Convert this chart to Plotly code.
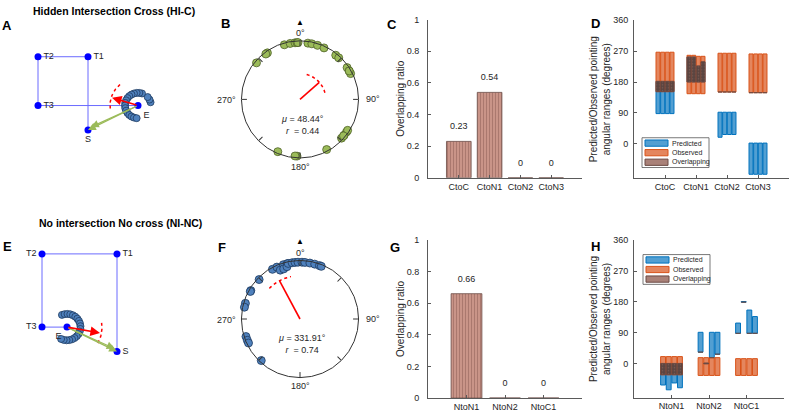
import numpy as np
import plotly.graph_objects as go

W, H = 790, 418
FONT = "Liberation Sans, Arial, sans-serif"
TXT = "#262626"
AXC = "#5a5a5a"

# ---------------- panel A (grid units) ----------------
a_names = ["T2", "T1", "T3", "S", "E"]
a_x = [0, 1, 0, 1, 2]
a_y = [2, 2, 1, 0.5, 1]
a_textpos = ["middle right", "middle right", "middle right", "bottom center", "bottom right"]
a_edges = [("T2", "T1"), ("T1", "S"), ("T2", "T3"), ("T3", "E")]
a_ring_deg = [15, 28, 42, 72, 84, 96, 108, 120, 132, 144, 156, 168, 180, 192, 204, 216, 228, 240, 252, 264]
a_ring_r = 0.26
a_pointing = (1.48, 1.16)
a_arc = (0.56, 130, 192)
a_green_tips = [(1.0, 0.5), (1.06, 0.56)]

# ---------------- panel E (grid units) ----------------
e_names = ["T2", "T1", "T3", "E", "S"]
e_x = [0, 3, 0, 1, 3]
e_y = [3, 3, 0, 0, -1]
e_textpos = ["middle left", "middle right", "middle left", "bottom left", "middle right"]
e_edges = [("T2", "T1"), ("T1", "S"), ("T2", "T3"), ("T3", "E")]
e_ring_deg = [112, 100, 88, 76, 64, 52, 40, 28, 16, 4, -8, -20, -32, -44, -56, -68, -80, -92, -104, -116]
e_ring_r = 0.54
e_pointing = (2.32, -0.24)
e_arc = (1.4, -28, 10)
e_green_tips = [(3.0, -1.0), (2.9, -0.88)]

# ---------------- panel B / F (compass degrees) ----------------
b_theta = [344, 350, 355, 357, 358, 8, 12, 18, 25, 39, 43, 56, 60, 63, 60,
           125, 129, 123, 133, 130, 152, 183, 185, 203, 310, 325, 323]
b_r = [0.97] * len(b_theta)
b_mu, b_R, b_ci = 48.44, 0.44, (15, 80)

f_theta = [331, 336, 338, 343, 342, 347, 346, 348, 352, 355, 358, 2, 5, 10, 15, 20, 22,
           314, 300, 299, 286, 282, 252, 248, 245, 223]
f_r = [0.97, 0.97, 0.9, 0.97, 0.9, 0.97, 0.92, 0.97, 0.97, 0.97, 0.97, 0.97, 0.97, 0.97,
       0.97, 0.97, 0.97, 0.97, 0.97, 0.97, 0.97, 0.97, 0.97, 0.97, 0.97, 0.97]
f_mu, f_R, f_ci = 331.91, 0.74, (315, 348)

# ---------------- panel C / G ----------------
c_cats = ["CtoC", "CtoN1", "CtoN2", "CtoN3"]
c_ratio = [0.23, 0.54, 0, 0]
g_cats = ["NtoN1", "NtoN2", "NtoC1"]
g_ratio = [0.66, 0, 0]

# ---------------- panel D / H (degrees, 4 sub-bars per category) ----------------
d_cats = ["CtoC", "CtoN1", "CtoN2", "CtoN3"]
d_pred_lo = [[88, 88, 88, 88], [180, 180, 180, 180], [19, 27, 27, 27], [-89, -89, -89, -89]]
d_pred_hi = [[182, 182, 182, 182], [253, 253, 227, 239], [92, 92, 92, 92], [2, 2, 2, 2]]
d_obs_lo = [[152, 152, 152, 152], [146, 146, 146, 146], [151, 151, 151, 151], [149, 149, 149, 149]]
d_obs_hi = [[267, 267, 267, 267], [258, 258, 255, 255], [264, 264, 264, 264], [262, 262, 262, 262]]

h_cats = ["NtoN1", "NtoN2", "NtoC1"]
h_pred_lo = [[-63, -77, -57, -71], [33, -1, 17, 27], [88, 179, 88, 88]]
h_pred_hi = [[0, 0, 0, 0], [91, 1, 91, 91], [118, 181, 156, 137]]
h_obs_lo = [[-33, -33, -33, -33], [-35, -35, -35, -35], [-35, -35, -35, -35]]
h_obs_hi = [[20, 20, 20, 20], [17, 17, 17, 17], [14, 14, 14, 14]]

legend_names = ["Predicted", "Observed", "Overlapping"]
SUB_OFF = [-0.225, -0.075, 0.075, 0.225]

PRED_FILL, PRED_EDGE = "rgba(0,114,189,0.68)", "#0072bd"
OBS_FILL, OBS_EDGE = "rgba(217,83,25,0.7)", "#d95319"
OVL_FILL, OVL_EDGE = "rgba(75,62,62,0.85)", "#6b4a44"


def px_x(a, b):
    return [a / W, b / W]


def px_y(top, bottom):
    return [1 - bottom / H, 1 - top / H]


fig = go.Figure()


def diagram(names, xs, ys, tpos, edges, ring_deg, ring_r, tip, arc, green, xa, ya):
    idx = {n: i for i, n in enumerate(names)}
    lx, ly = [], []
    for p, q in edges:
        lx += [xs[idx[p]], xs[idx[q]], None]
        ly += [ys[idx[p]], ys[idx[q]], None]
    fig.add_trace(go.Scatter(x=lx, y=ly, mode="lines", line=dict(color="#6b6bff", width=1),
                             xaxis=xa, yaxis=ya, showlegend=False, hoverinfo="skip"))
    ex, ey = xs[idx["E"]], ys[idx["E"]]
    th = np.radians(ring_deg)
    fig.add_trace(go.Scatter(x=ex + ring_r * np.cos(th), y=ey + ring_r * np.sin(th), mode="markers",
                             marker=dict(size=7, color="#4f81bd", line=dict(color="#1d3a5f", width=0.8)),
                             xaxis=xa, yaxis=ya, showlegend=False))
    ta = np.radians(np.linspace(arc[1], arc[2], 30))
    fig.add_trace(go.Scatter(x=ex + arc[0] * np.cos(ta), y=ey + arc[0] * np.sin(ta), mode="lines",
                             line=dict(color="red", width=1.5, dash="dot"),
                             xaxis=xa, yaxis=ya, showlegend=False))
    fig.add_trace(go.Scatter(x=xs, y=ys, mode="markers+text", text=names, textposition=tpos,
                             textfont=dict(size=9, color=TXT, family=FONT),
                             marker=dict(size=7, color="#0000ff"),
                             xaxis=xa, yaxis=ya, showlegend=False))
    for gx, gy in green:
        fig.add_annotation(x=gx, y=gy, ax=ex, ay=ey, xref=xa, yref=ya, axref=xa, ayref=ya,
                           text="", showarrow=True, arrowhead=2, arrowsize=1.2, arrowwidth=1.3,
                           arrowcolor="#9bbb59")
    fig.add_annotation(x=tip[0], y=tip[1], ax=ex, ay=ey, xref=xa, yref=ya, axref=xa, ayref=ya,
                       text="", showarrow=True, arrowhead=2, arrowsize=1.2, arrowwidth=1.6,
                       arrowcolor="red")


diagram(a_names, a_x, a_y, a_textpos, a_edges, a_ring_deg, a_ring_r, a_pointing, a_arc, a_green_tips, "x", "y")
diagram(e_names, e_x, e_y, e_textpos, e_edges, e_ring_deg, e_ring_r, e_pointing, e_arc, e_green_tips, "x4", "y4")


def circ(theta, r, mu, R, ci, color, edge, sub):
    fig.add_trace(go.Scatterpolar(r=r, theta=theta, mode="markers", subplot=sub, showlegend=False,
                                  marker=dict(size=8, color=color, line=dict(color=edge, width=0.8))))
    fig.add_trace(go.Scatterpolar(r=[0, R], theta=[mu, mu], mode="lines", subplot=sub, showlegend=False,
                                  line=dict(color="red", width=1.6)))
    fig.add_trace(go.Scatterpolar(r=[R] * 30, theta=np.linspace(ci[0], ci[1], 30), mode="lines",
                                  subplot=sub, showlegend=False,
                                  line=dict(color="red", width=1.5, dash="dot")))


circ(b_theta, b_r, b_mu, b_R, b_ci, "#9bbb59", "#4f6228", "polar")
circ(f_theta, f_r, f_mu, f_R, f_ci, "#4f81bd", "#1d3a5f", "polar2")


def ratio_bars(cats, vals, xa, ya):
    pos = list(range(1, len(cats) + 1))
    fig.add_trace(go.Bar(x=pos, y=vals, width=0.8, xaxis=xa, yaxis=ya, showlegend=False,
                         marker=dict(color="#c99488", line=dict(color="#6a4a44", width=0.8),
                                     pattern=dict(shape="|", fgcolor="#8c5c54", size=3, solidity=0.35,
                                                  fillmode="overlay"))))
    fig.add_trace(go.Scatter(x=pos, y=[v + 0.09 for v in vals], mode="text", text=[f"{v:g}" for v in vals],
                             textfont=dict(size=9, color=TXT, family=FONT), xaxis=xa, yaxis=ya,
                             showlegend=False))


ratio_bars(c_cats, c_ratio, "x2", "y2")
ratio_bars(g_cats, g_ratio, "x5", "y5")


def range_bars(cats, plo, phi, olo, ohi, xa, ya):
    xs, pb, ph, ob, oh, vb, vh = [], [], [], [], [], [], []
    for i in range(len(cats)):
        for j, off in enumerate(SUB_OFF):
            xs.append(i + 1 + off)
            pb.append(plo[i][j]); ph.append(phi[i][j] - plo[i][j])
            ob.append(olo[i][j]); oh.append(ohi[i][j] - olo[i][j])
            lo, hi = max(plo[i][j], olo[i][j]), min(phi[i][j], ohi[i][j])
            vb.append(lo); vh.append(max(hi - lo, 0))
    common = dict(x=xs, width=0.13, xaxis=xa, yaxis=ya, showlegend=False)
    fig.add_trace(go.Bar(y=ph, base=pb, name="Predicted",
                         marker=dict(color=PRED_FILL, line=dict(color=PRED_EDGE, width=1)), **common))
    fig.add_trace(go.Bar(y=oh, base=ob, name="Observed",
                         marker=dict(color=OBS_FILL, line=dict(color=OBS_EDGE, width=1)), **common))
    fig.add_trace(go.Bar(y=vh, base=vb, name="Overlapping",
                         marker=dict(color=OVL_FILL, line=dict(color=OVL_EDGE, width=0.8),
                                     pattern=dict(shape=".", fgcolor="#a07468", size=3, solidity=0.2,
                                                  fillmode="overlay")),
                         **common))


range_bars(d_cats, d_pred_lo, d_pred_hi, d_obs_lo, d_obs_hi, "x3", "y3")
range_bars(h_cats, h_pred_lo, h_pred_hi, h_obs_lo, h_obs_hi, "x6", "y6")

hidden = dict(visible=False, fixedrange=True)
tickfont = dict(size=9, color=TXT, family=FONT)
titlefont = dict(size=10, color=TXT, family=FONT)


def bar_axes(dom_x, dom_y, cats, xr, yr, ytickvals, ytitle, anchor_x, anchor_y, standoff):
    xa = dict(domain=dom_x, range=xr, anchor=anchor_y, tickvals=list(range(1, len(cats) + 1)),
              ticktext=cats, showline=True, linecolor=AXC, linewidth=1, ticks="inside", ticklen=3,
              tickcolor=AXC, tickfont=tickfont, showgrid=False, zeroline=False, fixedrange=True)
    ya = dict(domain=dom_y, range=yr, anchor=anchor_x, tickvals=ytickvals, showline=True,
              linecolor=AXC, linewidth=1, ticks="inside", ticklen=3, tickcolor=AXC, tickfont=tickfont,
              showgrid=False, zeroline=False, fixedrange=True, ticklabelstandoff=standoff,
              title=dict(text=ytitle, font=titlefont, standoff=0))
    return xa, ya


ratio_ticks = [0, 0.2, 0.4, 0.6, 0.8, 1]
deg_ticks = [0, 90, 180, 270, 360]
deg_title = "Predicted/Observed pointing<br>angular ranges (degrees)"

x2, y2 = bar_axes(px_x(428, 582), px_y(15, 177), c_cats, [0, 5], [0, 1], ratio_ticks,
                  "Overlapping ratio", "x2", "y2", 6)
x3, y3 = bar_axes(px_x(634, 789), px_y(15.7, 177.3), d_cats, [0, 5], [-100, 360], deg_ticks,
                  deg_title, "x3", "y3", 3)
x5, y5 = bar_axes(px_x(428, 582), px_y(240.7, 402.7), g_cats, [0, 4], [0, 1], ratio_ticks,
                  "Overlapping ratio", "x5", "y5", 6)
x6, y6 = bar_axes(px_x(634, 784), px_y(241, 402.3), h_cats, [0, 4], [-100, 360], deg_ticks,
                  deg_title, "x6", "y6", 3)


def polar_layout(dx, dy):
    return dict(domain=dict(x=dx, y=dy), bgcolor="white",
                radialaxis=dict(visible=False, range=[0, 1]),
                angularaxis=dict(rotation=90, direction="clockwise",
                                 tickvals=[0, 45, 90, 135, 180, 225, 270, 315],
                                 ticktext=[""] * 8, ticks="inside", ticklen=5, tickcolor="#333333",
                                 showgrid=False, linecolor="#333333", linewidth=1, tickfont=tickfont))


fig.update_layout(
    width=W, height=H, autosize=False, margin=dict(l=0, r=0, t=0, b=0),
    paper_bgcolor="white", plot_bgcolor="white", barmode="overlay", showlegend=False,
    font=dict(family=FONT, color=TXT),
    xaxis=dict(domain=px_x(13, 188), range=[-0.5, 3.0], anchor="y", **hidden),
    yaxis=dict(domain=px_y(28, 178), range=[-0.5, 2.5], anchor="x", **hidden),
    xaxis4=dict(domain=px_x(12, 162), range=[-1.2, 4.8], anchor="y4", **hidden),
    yaxis4=dict(domain=px_y(240, 390), range=[-2.4, 3.6], anchor="x4", **hidden),
    xaxis2=x2, yaxis2=y2, xaxis3=x3, yaxis3=y3, xaxis5=x5, yaxis5=y5, xaxis6=x6, yaxis6=y6,
    polar=polar_layout(px_x(240, 360), px_y(36.7, 156.7)),
    polar2=polar_layout(px_x(240, 360), px_y(261.7, 381.7)),
)


def paper_text(text, x, y, size, color=TXT, **kw):
    fig.add_annotation(text=text, x=x / W, y=1 - y / H, xref="paper", yref="paper", showarrow=False,
                       xanchor="center", yanchor="middle", font=dict(size=size, color=color, family=FONT),
                       **kw)


# panel letters and titles
letters = [("A", 7, 21), ("B", 225, 19), ("C", 392, 20), ("D", 595, 19),
           ("E", 7, 247), ("F", 222, 248), ("G", 395, 248), ("H", 595, 247)]
for t, lx, ly in letters:
    paper_text(f"<b>{t}</b>", lx, ly, 13, "black")

titles = [("Hidden Intersection Cross (HI-C)", 114, 6), ("No intersection No cross (NI-NC)", 120, 223)]
for t, tx, ty in titles:
    paper_text(f"<b>{t}</b>", tx, ty, 10.5, "black")

# circular-plot labels (centre of circle cx, cy; radius 60 px)
for cx, cy, mu, R in [(300, 96.7, b_mu, b_R), (300, 321.7, f_mu, f_R)]:
    paper_text("▲", cx, cy - 79, 8, "black")
    paper_text("0°", cx, cy - 68, 9)
    paper_text("90°", cx + 73, cy, 9)
    paper_text("180°", cx, cy + 69, 9)
    paper_text("270°", cx - 73, cy + 1, 9)
    paper_text(f"<i>μ</i> = {mu:.2f}°<br><i>r</i>  = {R:.2f}", cx + 2, cy + 26, 9, align="center")

# hand-made legends for the range panels (box left/top in px)
for lx, ly in [(642, 136), (643, 255.7)]:
    fig.add_shape(type="rect", xref="paper", yref="paper", x0=lx / W, x1=(lx + 67) / W,
                  y0=1 - (ly + 30.5) / H, y1=1 - ly / H, line=dict(color="#555555", width=0.8),
                  fillcolor="white")
    fills = [(PRED_FILL, PRED_EDGE), (OBS_FILL, OBS_EDGE), ("rgba(160,115,105,0.9)", OVL_EDGE)]
    for k, name in enumerate(legend_names):
        ry = ly + 5.5 + 9.8 * k
        fig.add_shape(type="rect", xref="paper", yref="paper", x0=(lx + 3) / W, x1=(lx + 26) / W,
                      y0=1 - (ry + 3.2) / H, y1=1 - (ry - 3.2) / H,
                      line=dict(color=fills[k][1], width=1), fillcolor=fills[k][0])
        fig.add_annotation(text=name, x=(lx + 28) / W, y=1 - ry / H, xref="paper", yref="paper",
                           showarrow=False, xanchor="left", yanchor="middle",
                           font=dict(size=7, color=TXT, family=FONT))

fig.write_html("out.html", config={"displayModeBar": False},
               post_script="document.body.style.margin='0';")
